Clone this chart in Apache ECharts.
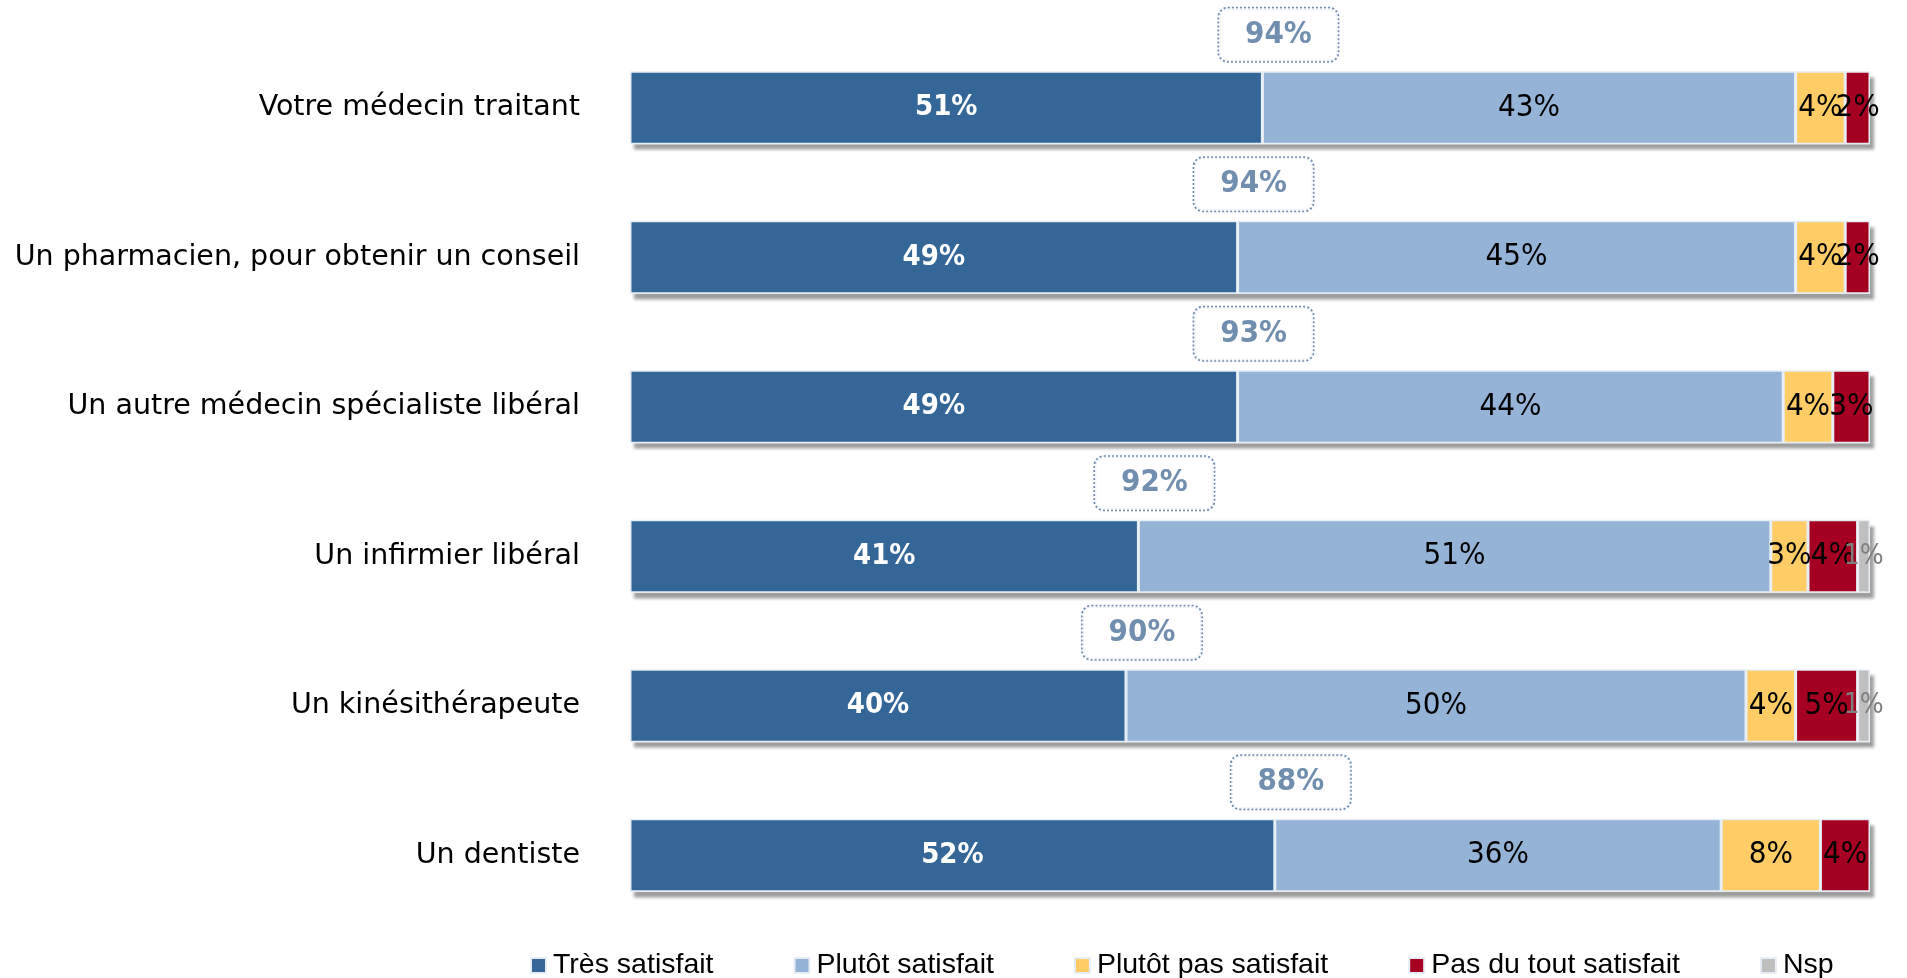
<!DOCTYPE html>
<html>
<head>
<meta charset="utf-8">
<script src="https://cdn.jsdelivr.net/npm/echarts@6/dist/echarts.min.js"></script>
<style>
html,body{margin:0;padding:0;background:#fff;}
#chart{width:1907px;height:978px;}
</style>
</head>
<body>
<div id="chart"></div>
<script>
const categories = [
  'Votre médecin traitant',
  'Un pharmacien, pour obtenir un conseil',
  'Un autre médecin spécialiste libéral',
  'Un infirmier libéral',
  'Un kinésithérapeute',
  'Un dentiste'
];
const seriesNames = ['Très satisfait', 'Plutôt satisfait', 'Plutôt pas satisfait', 'Pas du tout satisfait', 'Nsp'];
const tresSatisfait   = [51, 49, 49, 41, 40, 52];
const plutotSatisfait = [43, 45, 44, 51, 50, 36];
const plutotPas       = [4, 4, 4, 3, 4, 8];
const pasDuTout       = [2, 2, 3, 4, 5, 4];
const nsp             = [0, 0, 0, 1, 1, 0];
const totalSatisfaits = [94, 94, 93, 92, 90, 88];

const colors = ['#346797', '#95b3d7', '#ffcc66', '#a50021', '#bfbfbf'];
const labelColors = ['#ffffff', '#000000', '#000000', '#000000', '#7f7f7f'];
const labelWeights = ['bold', 'normal', 'normal', 'normal', 'normal'];
const labelSizes = [29, 31, 31, 31, 28];
const seriesData = [tresSatisfait, plutotSatisfait, plutotPas, pasDuTout, nsp];

const rowTotals = categories.map((c, i) => seriesData.reduce((s, arr) => s + arr[i], 0));

const chart = echarts.init(document.getElementById('chart'));

const series = [];
// shadow backdrop
series.push({
  name: 'fond',
  type: 'bar',
  barWidth: 73,
  barGap: '-100%',
  silent: true,
  z: 1,
  data: rowTotals,
  itemStyle: {
    color: '#ffffff',
    shadowColor: 'rgba(0,0,0,0.38)',
    shadowOffsetX: 4,
    shadowOffsetY: 6,
    shadowBlur: 3
  },
  label: { show: false }
});
seriesNames.forEach((name, k) => {
  series.push({
    name: name,
    type: 'bar',
    stack: 'total',
    barWidth: 73,
    z: 2,
    data: seriesData[k].map(v => v === 0 ? null : v),
    itemStyle: { color: colors[k], borderColor: '#e6edf5', borderWidth: 1.5 },
    label: {
      show: true,
      position: 'inside',
      formatter: p => (p.value ? p.value + '%' : ''),
      color: labelColors[k],
      fontFamily: 'DejaVu Sans Condensed',
      fontWeight: labelWeights[k],
      fontSize: labelSizes[k]
    }
  });
});
series.push({
  name: 'total',
  type: 'scatter',
  symbolSize: 0,
  silent: true,
  z: 5,
  data: totalSatisfaits.map((t, i) => ({ value: [tresSatisfait[i], i], total: t })),
  label: {
    show: true,
    position: 'inside',
    offset: [16, -73],
    formatter: p => p.data.total + '%',
    color: '#4f729b',
    fontFamily: 'DejaVu Sans Condensed',
    fontWeight: 'bold',
    fontSize: 31,
    width: 115,
    height: 51,
    lineHeight: 51,
    align: 'center',
    verticalAlign: 'middle',
    padding: [1, 2],
    borderColor: '#4a6f9a',
    borderWidth: 1.5,
    borderType: [2, 2],
    borderRadius: 9,
    backgroundColor: '#ffffff'
  }
});

chart.setOption({
  animation: false,
  color: colors,
  grid: { left: 630, right: 37, top: 33, bottom: 48, containLabel: false },
  xAxis: {
    type: 'value', min: 0, max: 100, show: false
  },
  yAxis: {
    type: 'category',
    data: categories,
    inverse: true,
    axisLine: { show: false },
    axisTick: { show: false },
    axisLabel: {
      margin: 50,
      color: '#000000',
      fontFamily: 'DejaVu Sans',
      fontSize: 28.5
    }
  },
  legend: {
    data: seriesNames,
    left: 525,
    top: 946,
    itemWidth: 15,
    itemHeight: 15,
    itemGap: 80,
    icon: 'rect',
    textStyle: {
      fontFamily: 'Liberation Sans',
      fontSize: 28.5,
      color: '#000000',
      padding: [0, 0, 0, 2]
    }
  },
  series: series
});
</script>
</body>
</html>
